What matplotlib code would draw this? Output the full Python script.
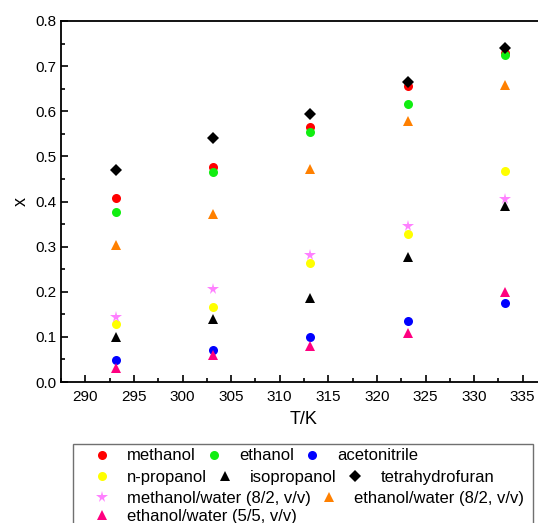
import matplotlib
matplotlib.use('Agg')
import matplotlib.pyplot as plt
from matplotlib.patches import Rectangle

plt.rcParams['font.family'] = ['Liberation Sans', 'DejaVu Sans']

# temperatures (K)
T = [293.15, 303.15, 313.15, 323.15, 333.15]

# mole fraction solubility x
methanol = [0.407, 0.476, 0.566, 0.657, 0.728]
ethanol = [0.377, 0.465, 0.553, 0.615, 0.725]
acetonitrile = [0.048, 0.070, 0.099, 0.135, 0.176]
n_propanol = [0.128, 0.167, 0.263, 0.327, 0.468]
isopropanol = [0.100, 0.140, 0.187, 0.277, 0.389]
thf = [0.470, 0.540, 0.595, 0.665, 0.740]
meoh_water_82 = [0.145, 0.205, 0.282, 0.345, 0.405]
etoh_water_82 = [0.303, 0.373, 0.473, 0.578, 0.658]
etoh_water_55 = [0.032, 0.060, 0.080, 0.108, 0.200]

series = [
    ('methanol', methanol, 'o', '#ff0000', 6.5),
    ('ethanol', ethanol, 'o', '#11ee11', 6.5),
    ('acetonitrile', acetonitrile, 'o', '#0000ff', 6.5),
    ('n-propanol', n_propanol, 'o', '#ffff00', 6.5),
    ('isopropanol', isopropanol, '^', '#000000', 7),
    ('tetrahydrofuran', thf, 'D', '#000000', 6.3),
    ('methanol/water (8/2, v/v)', meoh_water_82, '*', '#ff80ff', 8.5),
    ('ethanol/water (8/2, v/v)', etoh_water_82, '^', '#ff8000', 7),
    ('ethanol/water (5/5, v/v)', etoh_water_55, '^', '#ff0080', 7),
]

fig = plt.figure(figsize=(5.38, 5.23), dpi=100)
ax = fig.add_axes([61 / 538, 141 / 523, 486 / 538, 361 / 523])

handles = []
for name, vals, mk, col, ms in series:
    h, = ax.plot(T, vals, linestyle='none', marker=mk, color=col,
                 markersize=ms, markeredgewidth=0, label=name)
    handles.append(h)

ax.set_xlim(287.5, 337.5)
ax.set_ylim(0, 0.8)
ax.set_xticks(range(290, 340, 5))
ax.set_xticks([x + 2.5 for x in range(285, 340, 5)], minor=True)
ax.set_yticks([i / 10 for i in range(9)])
ax.set_yticks([i / 20 for i in range(17)], minor=True)
ax.yaxis.set_major_formatter(plt.FuncFormatter(lambda v, _: f"{v:.1f}"))
ax.tick_params(which='both', direction='in', labelsize=11, width=1.2)
ax.tick_params(which='major', length=5)
ax.tick_params(which='minor', length=3)
ax.tick_params(axis='x', pad=6)
for s in ax.spines.values():
    s.set_linewidth(1.3)
ax.set_xlabel('T/K', fontsize=13, labelpad=5)
ax.set_ylabel('x', fontsize=13, labelpad=4)

# legend drawn row by row like the original flowing legend
rows = [handles[0:3], handles[3:6], handles[6:8], handles[8:9]]
row_y = [456, 477.7, 498.3, 516]
for hs, y in zip(rows, row_y):
    fig.legend(handles=hs, ncol=len(hs), loc='center left',
               bbox_to_anchor=(93.7 / 538, 1 - y / 523),
               frameon=False, fontsize=12, borderpad=0,
               borderaxespad=0, handlelength=1.0, handletextpad=1.0,
               columnspacing=0.6, markerscale=1.0)
fig.add_artist(Rectangle((73 / 538, -0.1), 460 / 538, 0.1 + (1 - 444 / 523),
                         transform=fig.transFigure, fill=False,
                         edgecolor='#707070', linewidth=1.0))

fig.savefig('out.png', dpi=100)
